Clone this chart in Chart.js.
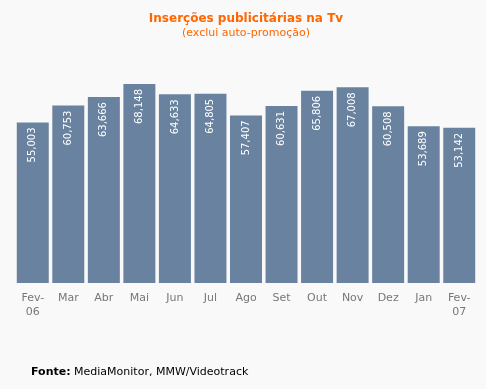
<!DOCTYPE html>
<html>
<head>
<meta charset="utf-8">
<script src="https://cdn.jsdelivr.net/npm/chart.js@4/dist/chart.umd.min.js"></script>
<style>
  html, body { margin: 0; padding: 0; background: #f9f9f9; }
  #wrap { position: relative; width: 486px; height: 389px; }
  #footer {
    position: absolute; left: 31px; top: 365px;
    font: 11px "DejaVu Sans", Verdana, sans-serif; color: #000;
  }
</style>
</head>
<body>
<div id="wrap">
  <canvas id="tvChart" width="486" height="389"></canvas>
  <div id="footer"><b>Fonte:</b> MediaMonitor, MMW/Videotrack</div>
</div>
<script>
// data
const months = [['Fev-', '06'], 'Mar', 'Abr', 'Mai', 'Jun', 'Jul', 'Ago', 'Set', 'Out', 'Nov', 'Dez', 'Jan', ['Fev-', '07']];
const insercoes = [55003, 60753, 63666, 68148, 64633, 64805, 57407, 60631, 65806, 67008, 60508, 53689, 53142];

// white values written upwards inside each bar
const barValues = {
    id: 'barValues',
    afterDatasetsDraw(chart) {
        const ctx = chart.ctx;
        const meta = chart.getDatasetMeta(0);
        ctx.save();
        ctx.fillStyle = '#ffffff';
        ctx.font = '10px "DejaVu Sans", Verdana, sans-serif';
        ctx.textAlign = 'right';
        ctx.textBaseline = 'middle';
        meta.data.forEach((bar, i) => {
            ctx.save();
            ctx.translate(bar.x, bar.y + 5);
            ctx.rotate(-Math.PI / 2);
            ctx.fillText(insercoes[i].toLocaleString('en-US'), 0, 0);
            ctx.restore();
        });
        ctx.restore();
    }
};

const ctx = document.getElementById('tvChart').getContext('2d');
new Chart(ctx, {
    type: 'bar',
    data: {
        labels: months,
        datasets: [{
            data: insercoes,
            backgroundColor: '#69829f',
            borderWidth: 0,
            categoryPercentage: 1,
            barPercentage: 0.9
        }]
    },
    options: {
        responsive: false,
        animation: false,
        layout: { padding: { left: 15, right: 9, top: 0, bottom: 70 } },
        plugins: {
            legend: { display: false },
            tooltip: { enabled: false },
            title: {
                display: true,
                text: 'Inserções publicitárias na Tv',
                color: '#ff6600',
                font: { family: '"DejaVu Sans", Verdana, sans-serif', size: 12, weight: 'bold' },
                padding: { top: 12, bottom: 0 }
            },
            subtitle: {
                display: true,
                text: '(exclui auto-promoção)',
                color: '#ff6600',
                font: { family: '"DejaVu Sans", Verdana, sans-serif', size: 11 },
                padding: { top: 0, bottom: 39 }
            }
        },
        scales: {
            x: {
                grid: { display: false },
                border: { display: false },
                ticks: {
                    color: '#777777',
                    padding: 0,
                    maxRotation: 0,
                    autoSkip: false,
                    font: { family: '"DejaVu Sans", Verdana, sans-serif', size: 11, lineHeight: 1.27 }
                }
            },
            y: {
                display: false,
                min: 0,
                max: 70000
            }
        }
    },
    plugins: [barValues]
});
</script>
</body>
</html>
